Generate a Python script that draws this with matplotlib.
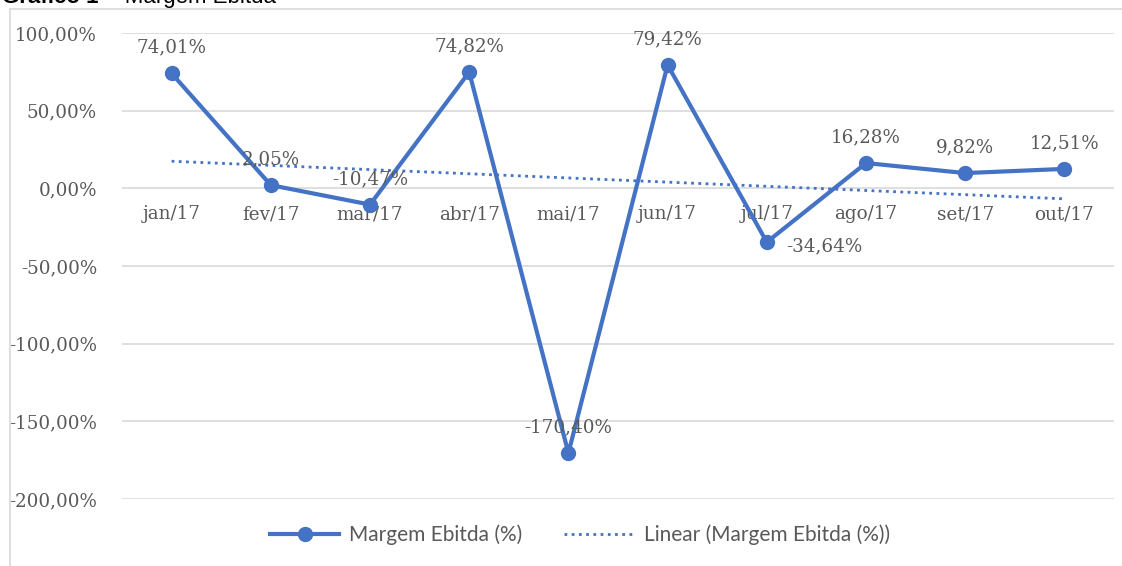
import numpy as np
import matplotlib
matplotlib.use("Agg")
import matplotlib.pyplot as plt
from matplotlib.patches import Rectangle
from matplotlib.lines import Line2D

# ── Data ──────────────────────────────────────────────────────────────────────
meses = ["jan/17", "fev/17", "mar/17", "abr/17", "mai/17",
         "jun/17", "jul/17", "ago/17", "set/17", "out/17"]
margem = [74.01, 2.05, -10.47, 74.82, -170.40, 79.42, -34.64, 16.28, 9.82, 12.51]
y_ticks = [100, 50, 0, -50, -100, -150, -200]

BLUE = "#4472c4"
GREY = "#595959"
SERIF = ["DejaVu Serif"]
SANS = ["Lato", "DejaVu Sans"]
FS = 13.2


def fmt_pct(v):
    return f"{v:.2f}%".replace(".", ",")


fig = plt.figure(figsize=(11.22, 5.66), dpi=100)
W, H = 1122, 566

# chart frame + title (cut at the top edge, as in the source picture)
fig.patches.append(Rectangle((10 / W, -0.05), 1.2, 1 - 9 / H + 0.05,
                             transform=fig.transFigure, fill=False,
                             edgecolor="#d9d9d9", lw=1.2))
fig.text(2 / W, 1 - 3 / H, "Gráfico 1", fontsize=16, fontweight="bold",
         family="Liberation Sans", va="baseline", color="black")
fig.text(100 / W, 1 - 3 / H, "–  Margem Ebitda", fontsize=16,
         family="Liberation Sans", va="baseline", color="black")

ax = fig.add_axes([122 / W, 1 - 499 / H, (1114 - 122) / W, (499 - 33) / H])
x = np.arange(len(meses))
ax.set_xlim(-0.5, len(meses) - 0.5)
ax.set_ylim(-200, 100)

for t in y_ticks:
    ax.axhline(t, color="#d9d9d9", lw=1.2, zorder=0)
ax.set_yticks(y_ticks)
ax.set_yticklabels([fmt_pct(t) for t in y_ticks], family=SERIF,
                   fontsize=FS, color=GREY)
ax.tick_params(axis="y", length=0, pad=18)
ax.set_xticks([])
for s in ax.spines.values():
    s.set_visible(False)

# category labels sit under the zero line
for xi, m in zip(x, meses):
    ax.text(xi, -11, m, ha="center", va="top", family=SERIF,
            fontsize=FS, color=GREY)

# linear trendline (Excel-style least squares fit of the series)
coef = np.polyfit(x, margem, 1)
ax.plot(x, np.polyval(coef, x), color=BLUE, lw=2, ls=(0, (1, 1.6)), zorder=2)

ax.plot(x, margem, color=BLUE, lw=3, marker="o", ms=10, zorder=3,
        clip_on=False)

for xi, v in zip(x, margem):
    if meses[xi] == "jul/17":
        ax.annotate(fmt_pct(v), (xi, v), xytext=(14, -3), textcoords="offset points",
                    ha="left", va="center", family=SERIF, fontsize=FS, color=GREY,
                    zorder=4)
    else:
        ax.annotate(fmt_pct(v), (xi, v), xytext=(0, 12), textcoords="offset points",
                    ha="center", va="bottom", family=SERIF, fontsize=FS, color=GREY,
                    zorder=4)

handles = [
    Line2D([], [], color=BLUE, lw=3, marker="o", ms=10),
    Line2D([], [], color=BLUE, lw=2, ls=(0, (1, 1.6))),
]
fig.legend(handles, ["Margem Ebitda (%)", "Linear (Margem Ebitda (%))"],
           loc="center", bbox_to_anchor=(580 / W, 1 - 535 / H), ncol=2,
           frameon=False, handlelength=3.3, handletextpad=0.5, columnspacing=2.0,
           prop={"family": SANS, "size": 15}, labelcolor=GREY)

fig.savefig("out.png", dpi=100)
